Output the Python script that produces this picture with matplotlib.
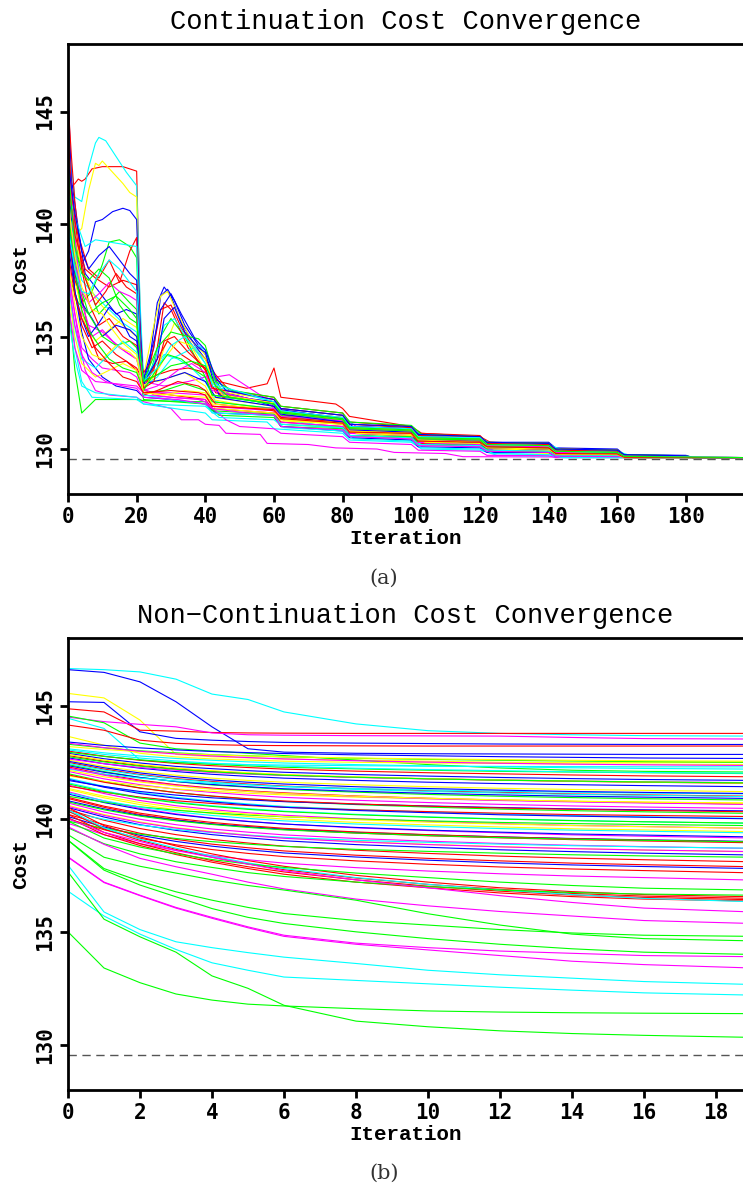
import matplotlib
matplotlib.use('Agg')
import matplotlib.pyplot as plt

# cost of the known optimum (dashed reference line)
opt_cost = 129.57

# ---------------- (a) continuation runs: (iteration, cost) vertices ----------------
lines_a = [
    [(0,141.5),(2,141.8),(3,142.0),(4,141.9),(5,142.0),(7,142.45),(10,142.55),(16,142.55),(20,142.35),(21,136),(22,132.6),(26,132.5),(30,132.4),(40,132.2),(42,131.8),(60,131.6),(62,131.2),(80,131.0),(82,130.6),(100,130.5),(102,130.25),(120,130.15),(122,129.95),(140,129.9),(142,129.72),(160,129.7),(162,129.62),(197,129.62)],
    [(0,144.5),(1,142.5),(2,141.2),(4,141.0),(6,142.5),(8,143.6),(9,143.85),(11,143.7),(14,143.0),(17,142.3),(20,141.7),(21,136.5),(22,133.2),(25,133.6),(28,134.2),(32,134.0),(36,133.6),(40,133.0),(43,132.1),(60,131.8),(63,131.3),(80,130.9),(83,130.5),(100,130.4),(103,130.2),(120,130.1),(124,129.8),(140,129.75),(144,129.62),(197,129.62)],
    [(0,143.5),(1,141.5),(2,139.5),(4,139.8),(6,141.5),(8,142.7),(9,142.6),(10,142.8),(13,142.3),(16,141.8),(18,141.4),(20,141.2),(21,134),(22,132.8),(26,133.5),(28,134.5),(31,135.6),(35,134.8),(40,133.5),(42,132.3),(60,131.9),(62,131.4),(80,131.1),(84,130.7),(100,130.55),(105,130.3),(120,130.2),(126,129.9),(140,129.8),(147,129.62),(197,129.62)],
    [(0,142),(2,138.5),(4,138.2),(6,138.8),(8,140.1),(10,140.2),(13,140.55),(16,140.7),(18,140.6),(20,140.2),(21,135.5),(22,133.0),(25,134.5),(27,136.8),(29,137.1),(31,136.6),(34,135.5),(38,134.6),(40,134.2),(44,132.6),(60,131.9),(62,131.4),(80,131.1),(82,130.7),(100,130.6),(102,130.3),(120,130.2),(122,130.0),(140,129.95),(142,129.75),(160,129.72),(163,129.66),(180,129.64),(182,129.62),(197,129.62)],
    [(0,141.8),(2,137.5),(4,136.5),(7,137.0),(10,138.2),(12,139.2),(15,139.3),(18,139.0),(20,138.5),(21,134),(22,132.6),(24,133.4),(27,135.0),(30,135.8),(34,135.0),(40,133.2),(42,132.4),(60,132.0),(62,131.6),(80,131.2),(82,130.8),(100,130.8),(102,130.5),(120,130.4),(122,130.2),(140,130.15),(142,129.9),(160,129.9),(162,129.7),(180,129.68),(182,129.62),(197,129.62)],
    [(0,143),(2,140),(4,139.0),(6,138.0),(9,137.6),(12,138.4),(15,137.4),(18,138.8),(20,139.4),(21,135),(22,132.9),(25,133.5),(28,136.5),(30,136.2),(35,134.5),(40,133.5),(43,132.5),(60,132.0),(63,131.5),(80,131.3),(83,130.9),(100,130.7),(104,130.4),(120,130.3),(123,130.1),(140,130.0),(145,129.8),(160,129.75),(165,129.62),(197,129.62)],
    [(0,146),(1,142),(3,139.8),(5,137.8),(8,137.2),(11,136.6),(14,136.0),(17,136.2),(20,136.0),(21,133.5),(23,133.0),(26,136.5),(28,137.2),(30,136.8),(33,135.6),(37,134.6),(40,134.0),(45,132.5),(60,132.0),(62,131.7),(80,131.4),(82,131.0),(100,130.9),(102,130.6),(120,130.55),(122,130.3),(140,130.3),(142,130.05),(160,130.0),(162,129.75),(180,129.72),(182,129.62),(197,129.62)],
    [(0,140.5),(2,137),(4,135.5),(7,134.5),(10,134.8),(14,134.2),(18,133.8),(20,133.6),(22,133.0),(26,133.3),(30,133.5),(35,133.6),(40,133.4),(44,133.0),(52,132.7),(58,132.9),(60,133.6),(62,132.3),(70,132.15),(78,132.0),(80,131.8),(82,131.45),(100,131.0),(103,130.7),(120,130.55),(123,130.3),(140,130.15),(142,130.0),(160,129.95),(162,129.72),(180,129.68),(182,129.62),(197,129.62)],
    [(0,139),(1,137),(3,135),(5,133.5),(8,132.6),(12,132.4),(20,132.3),(22,132.1),(30,131.8),(33,131.3),(38,131.3),(40,131.1),(44,131.05),(46,130.7),(56,130.65),(58,130.25),(70,130.2),(78,130.05),(90,130.0),(95,129.85),(110,129.8),(115,129.66),(197,129.62)],
    [(0,137),(2,133.5),(4,131.6),(6,131.9),(8,132.2),(20,132.2),(22,132.15),(40,132.1),(44,131.5),(60,131.4),(62,131.0),(80,130.9),(82,130.6),(100,130.55),(102,130.3),(120,130.25),(122,130.05),(140,130.05),(143,129.85),(160,129.85),(162,129.62),(197,129.62)],
    [(0,138.5),(2,134.5),(4,133.0),(7,132.3),(20,132.2),(22,132.0),(40,131.6),(42,131.3),(58,131.2),(60,130.9),(80,130.7),(82,130.4),(100,130.3),(103,130.0),(120,129.95),(125,129.72),(140,129.68),(145,129.62),(197,129.62)],
    [(0,142.5),(2,139),(4,136),(6,135.5),(10,135.2),(15,134.5),(20,134.0),(22,133.0),(28,132.8),(35,133.0),(40,133.2),(43,133.2),(47,133.3),(52,132.8),(57,132.3),(60,131.8),(64,131.6),(80,131.4),(84,131.0),(100,130.9),(104,130.55),(120,130.45),(124,130.2),(140,130.15),(144,129.9),(160,129.85),(164,129.68),(180,129.66),(184,129.62),(197,129.62)],
    [(0,140),(2,137.5),(5,135.5),(8,134.8),(12,135.3),(16,135.8),(20,135.4),(22,133.3),(26,133.0),(30,133.2),(34,133.4),(38,133.0),(40,132.8),(42,132.2),(60,131.7),(62,131.3),(80,131.1),(82,130.75),(100,130.65),(103,130.35),(120,130.3),(124,130.05),(140,130.0),(143,129.8),(160,129.75),(163,129.62),(197,129.62)],
    [(0,143.5),(1,141),(3,138.5),(6,137.2),(9,136.0),(12,136.5),(15,137.0),(18,136.5),(20,136.2),(21,133.5),(22,132.5),(28,132.6),(34,132.9),(40,132.6),(42,132.1),(60,131.8),(62,131.5),(80,131.1),(83,130.8),(100,130.7),(103,130.45),(120,130.35),(123,130.1),(140,130.1),(143,129.9),(160,129.9),(163,129.7),(180,129.68),(183,129.62),(197,129.62)],
    [(0,138),(2,136),(4,134.5),(7,134.0),(10,133.6),(14,133.5),(18,133.4),(20,133.2),(22,132.4),(30,132.3),(40,132.2),(41,131.9),(60,131.7),(61,131.2),(80,131.0),(81,130.7),(100,130.6),(101,130.3),(120,130.2),(121,130.0),(140,129.95),(141,129.75),(160,129.7),(161,129.62),(197,129.62)],
    [(0,139.5),(2,137.5),(4,136.8),(6,135.2),(9,134.0),(13,133.8),(17,133.9),(20,133.5),(22,132.6),(26,134.0),(29,134.8),(33,134.2),(37,133.8),(40,133.6),(42,132.8),(45,132.3),(60,132.1),(63,131.6),(80,131.3),(82,130.9),(100,130.8),(102,130.45),(120,130.35),(122,130.15),(140,130.1),(142,129.85),(160,129.8),(162,129.62),(197,129.62)],
    [(0,141),(2,138.8),(4,137.5),(8,136.8),(12,136.2),(16,135.6),(20,135.2),(21,133.5),(22,132.8),(26,133.2),(30,134.0),(34,134.3),(38,134.6),(40,134.4),(43,133.0),(46,132.3),(60,132.0),(62,131.6),(80,131.2),(83,130.85),(100,130.75),(103,130.45),(120,130.4),(122,130.1),(140,130.05),(142,129.8),(160,129.8),(162,129.64),(197,129.62)],
    [(0,140.8),(2,137),(4,135.2),(6,134.0),(10,133.2),(14,132.8),(20,132.6),(22,132.3),(30,132.2),(40,132.0),(43,131.6),(60,131.5),(62,131.0),(80,130.8),(82,130.5),(100,130.4),(102,130.1),(120,130.05),(122,129.85),(140,129.85),(142,129.66),(197,129.62)],
    [(0,142.2),(2,139.5),(4,138.0),(8,136.7),(12,136.0),(16,135.5),(20,135.0),(22,133.2),(25,135.5),(27,136.8),(29,137.0),(32,136.0),(36,134.8),(40,134.2),(42,133.0),(46,132.5),(60,132.2),(62,131.7),(80,131.4),(82,131.0),(100,130.85),(102,130.55),(120,130.5),(122,130.2),(140,130.2),(142,129.95),(160,129.9),(162,129.7),(180,129.68),(182,129.62),(197,129.62)],
    [(0,137.8),(3,136.5),(6,136.0),(10,136.5),(14,136.8),(18,136.2),(20,135.8),(21,133.5),(22,132.2),(40,132.0),(42,131.7),(60,131.55),(62,131.1),(80,130.95),(82,130.6),(100,130.5),(102,130.2),(120,130.15),(123,129.9),(140,129.9),(143,129.7),(160,129.7),(163,129.62),(197,129.62)],
    [(0,143),(2,139.5),(4,136.5),(7,135.0),(10,135.3),(13,134.8),(17,134.3),(20,134.0),(22,132.7),(25,132.4),(30,132.3),(38,132.2),(40,132.1),(46,131.3),(50,131.0),(60,130.9),(62,130.7),(80,130.55),(82,130.3),(100,130.2),(102,129.95),(120,129.9),(122,129.72),(140,129.7),(142,129.62),(197,129.62)],
    [(0,145.5),(1,143),(2,141),(4,138),(6,136.5),(9,135.5),(12,135.8),(16,135.0),(20,134.6),(22,133.4),(24,133.8),(27,136.2),(30,136.4),(33,135.4),(37,134.4),(40,134.0),(43,133.3),(47,132.6),(60,132.3),(62,131.9),(80,131.6),(82,131.2),(100,131.0),(102,130.7),(120,130.6),(122,130.3),(140,130.25),(142,130.0),(160,129.95),(162,129.72),(180,129.68),(182,129.62),(197,129.62)],
    [(0,141.5),(2,140.3),(5,139.0),(8,139.3),(12,139.2),(16,139.1),(20,139.0),(21,134.5),(22,133.0),(25,133.8),(28,135.5),(31,135.8),(35,134.8),(40,133.8),(42,132.8),(60,132.1),(62,131.8),(80,131.5),(83,131.1),(100,130.95),(103,130.6),(120,130.5),(123,130.25),(140,130.2),(144,129.95),(160,129.9),(164,129.7),(180,129.68),(183,129.62),(197,129.62)],
    [(0,137),(2,135),(4,133.8),(8,133.2),(12,133.5),(16,133.8),(20,133.5),(22,132.5),(30,132.4),(40,132.3),(43,131.8),(60,131.6),(63,131.25),(80,131.1),(84,130.7),(100,130.6),(104,130.3),(120,130.25),(124,130.0),(140,129.95),(144,129.75),(160,129.75),(164,129.64),(197,129.62)],
    [(0,139.8),(2,137.8),(4,136.5),(7,135.8),(10,135.0),(14,135.5),(18,135.3),(20,135.0),(22,132.9),(26,134.0),(28,135.8),(31,136.3),(34,135.2),(38,134.5),(40,134.3),(42,133.2),(44,132.4),(60,132.1),(62,131.75),(80,131.35),(83,131.0),(100,130.9),(103,130.55),(120,130.45),(123,130.2),(140,130.15),(143,129.9),(160,129.85),(163,129.68),(180,129.66),(183,129.62),(197,129.62)],
    [(0,136.5),(2,134.5),(4,133.5),(8,133.0),(14,132.9),(20,132.8),(22,132.5),(30,132.5),(40,132.4),(42,131.9),(60,131.8),(62,131.45),(80,131.25),(82,130.85),(100,130.75),(102,130.45),(120,130.4),(122,130.15),(140,130.1),(142,129.85),(160,129.8),(162,129.62),(197,129.62)],
    [(0,136),(2,134.0),(4,132.8),(8,132.5),(20,132.3),(22,132.0),(40,131.9),(44,131.4),(60,131.3),(63,130.95),(80,130.8),(83,130.45),(100,130.35),(103,130.05),(120,130.0),(124,129.8),(140,129.75),(144,129.62),(197,129.62)],
    [(0,142),(2,139.5),(5,138.0),(8,137.6),(12,137.2),(16,137.5),(20,137.3),(21,134),(22,132.4),(26,132.6),(32,133.0),(38,132.8),(40,132.6),(43,132.0),(60,131.7),(62,131.4),(80,131.2),(82,130.8),(100,130.7),(102,130.4),(120,130.3),(122,130.05),(140,130.0),(142,129.8),(160,129.75),(162,129.62),(197,129.62)],
    [(0,140.3),(3,137.5),(6,136.0),(10,135.0),(14,134.6),(18,134.8),(20,134.5),(22,133.0),(26,134.5),(30,135.2),(35,135.0),(38,134.9),(40,134.6),(43,133.0),(48,132.6),(60,132.3),(62,131.9),(80,131.6),(82,131.2),(100,131.05),(103,130.65),(120,130.55),(122,130.3),(140,130.25),(142,130.0),(160,129.95),(162,129.75),(180,129.7),(182,129.62),(197,129.62)],
    [(0,139.2),(2,137.0),(4,135.8),(6,135.0),(9,135.6),(12,136.3),(15,135.9),(18,135.0),(20,134.8),(22,132.9),(28,133.1),(34,133.4),(40,133.0),(43,132.3),(60,131.9),(62,131.55),(80,131.2),(82,130.85),(100,130.75),(102,130.4),(120,130.3),(122,130.05),(140,130.0),(143,129.8),(160,129.78),(163,129.64),(197,129.62)],
    [(0,141.2),(2,138.2),(4,137.0),(6,136.5),(9,136.9),(12,137.4),(15,137.0),(18,136.8),(20,136.6),(21,133.8),(22,132.6),(26,132.8),(32,133.5),(36,133.8),(40,133.4),(42,132.6),(60,132.0),(62,131.6),(80,131.3),(82,130.9),(100,130.8),(102,130.5),(120,130.4),(122,130.15),(140,130.1),(142,129.85),(160,129.8),(162,129.65),(197,129.62)],
    [(0,138.3),(2,136.4),(4,135.0),(7,134.2),(10,134.0),(14,134.6),(18,134.3),(20,134.0),(22,132.8),(25,133.2),(28,134.0),(32,134.8),(36,134.6),(40,134.0),(42,133.0),(45,132.4),(60,132.05),(62,131.65),(80,131.3),(82,130.95),(100,130.85),(102,130.5),(120,130.45),(122,130.2),(140,130.15),(142,129.9),(160,129.85),(162,129.66),(197,129.62)],
    [(0,137.3),(2,135.4),(4,134.0),(8,133.6),(12,134.2),(16,134.8),(20,134.3),(22,132.4),(30,132.2),(40,132.0),(42,131.6),(60,131.5),(62,131.1),(80,130.95),(82,130.6),(100,130.5),(102,130.2),(120,130.15),(122,129.95),(140,129.9),(142,129.7),(160,129.7),(162,129.62),(197,129.62)],
    [(0,144.2),(1,141.5),(3,139.0),(5,137.6),(8,136.4),(11,137.0),(14,137.8),(17,137.2),(20,136.9),(21,134),(22,132.7),(25,133.0),(28,134.8),(31,135.0),(35,134.3),(40,133.6),(42,132.7),(60,132.2),(62,131.8),(80,131.5),(82,131.1),(100,130.95),(102,130.6),(120,130.55),(122,130.25),(140,130.2),(142,129.95),(160,129.9),(162,129.7),(180,129.67),(182,129.62),(197,129.62)],
    [(0,140.6),(2,138.0),(4,136.2),(6,135.3),(9,134.6),(12,134.0),(16,133.6),(20,133.4),(22,132.6),(26,133.6),(29,134.2),(33,134.0),(37,133.5),(40,133.2),(42,132.4),(60,132.0),(62,131.6),(80,131.3),(82,130.9),(100,130.8),(102,130.45),(120,130.4),(122,130.1),(140,130.05),(142,129.8),(160,129.78),(162,129.63),(197,129.62)],
    [(0,142.8),(2,140.5),(4,138.8),(6,138.0),(9,138.6),(12,139.0),(15,138.4),(18,137.8),(20,137.5),(21,134.5),(22,133.1),(25,134.8),(27,136.2),(30,136.9),(33,136.0),(37,134.9),(40,134.4),(43,133.2),(46,132.6),(60,132.2),(62,131.8),(80,131.5),(82,131.1),(100,131.0),(102,130.65),(120,130.55),(122,130.3),(140,130.25),(142,130.0),(160,129.95),(162,129.75),(180,129.7),(182,129.62),(197,129.62)],
    [(0,137.6),(2,135.5),(4,134.2),(7,133.4),(11,133.0),(16,132.8),(20,132.7),(22,132.3),(32,132.2),(40,132.0),(42,131.8),(52,131.6),(60,131.5),(62,131.0),(80,130.85),(82,130.55),(100,130.45),(102,130.15),(120,130.1),(122,129.9),(140,129.85),(142,129.68),(197,129.62)],
    [(0,141.0),(2,138.6),(4,137.2),(7,136.2),(10,136.0),(13,135.3),(16,134.7),(20,134.2),(22,132.5),(28,132.4),(34,132.6),(40,132.5),(42,132.0),(60,131.75),(62,131.35),(80,131.15),(82,130.8),(100,130.7),(102,130.4),(120,130.3),(122,130.05),(140,130.0),(142,129.78),(160,129.75),(162,129.62),(197,129.62)],
    [(0,139.9),(2,138.0),(4,137.0),(6,136.9),(9,137.8),(12,138.4),(15,138.0),(18,137.4),(20,137.0),(21,134.2),(22,133.0),(26,133.6),(30,134.6),(34,135.0),(38,134.3),(40,133.8),(42,132.9),(60,132.1),(62,131.7),(80,131.4),(82,131.0),(100,130.9),(102,130.55),(120,130.5),(122,130.2),(140,130.15),(142,129.9),(160,129.85),(162,129.68),(197,129.62)],
    [(0,138.8),(2,136.8),(4,135.8),(6,135.2),(8,134.5),(12,133.8),(16,133.2),(20,133.0),(22,132.5),(30,132.6),(38,132.5),(40,132.4),(42,131.9),(60,131.75),(62,131.35),(80,131.15),(82,130.75),(100,130.7),(102,130.35),(120,130.3),(122,130.1),(140,130.05),(142,129.8),(160,129.78),(162,129.63),(197,129.62)],
    [(0,142.6),(2,139.0),(4,137.8),(6,137.5),(9,138.0),(12,137.6),(15,136.4),(18,135.8),(20,135.6),(22,133.0),(26,133.3),(30,133.7),(36,133.9),(40,133.7),(43,132.8),(47,132.3),(60,132.0),(62,131.65),(80,131.35),(82,130.95),(100,130.85),(102,130.5),(120,130.45),(122,130.2),(140,130.15),(142,129.9),(160,129.85),(162,129.67),(197,129.62)],
]
colors_a = ['r','c','y','b','g','r','b','r','m','g','c','m','y','g','m','r','c','b',
            'y','g','m','r','c','y','b','m','c','r','g',
            'b','m','y','c','r','g','b','m','y','c','r','g']

# ---------------- (b) non-continuation runs ----------------
iters_b = [0, 1, 2, 3, 4, 5, 6, 8, 10, 12, 14, 16, 19]
lines_b = [
    [146.65,146.6,146.5,146.18,145.52,145.28,144.73,144.2,143.9,143.78,143.72,143.68,143.66],
    [146.6,146.48,146.06,145.18,144.07,143.1,142.95,142.9,142.88,142.87,142.86,142.85,142.85],
    [145.55,145.35,144.37,142.85,142.75,142.7,142.65,142.6,142.55,142.5,142.5,142.5,142.5],
    [145.18,145.15,143.85,143.56,143.48,143.42,143.38,143.35,143.33,143.31,143.3,143.29,143.29],
    [144.87,144.73,143.92,143.88,143.82,143.8,143.79,143.78,143.78,143.78,143.78,143.78,143.78],
    [144.5,144.3,144.18,144.07,143.8,143.72,143.7,143.68,143.67,143.66,143.6,143.55,143.53],
    [144.45,144.0,142.6,142.5,142.45,142.4,142.38,142.35,142.33,142.32,142.31,142.3,142.3],
    [144.55,144.25,143.35,143.1,143.0,142.9,142.8,142.6,142.4,142.25,142.15,142.1,142.07],
    [144.15,143.92,143.48,143.34,143.28,143.25,143.24,143.23,143.22,143.22,143.22,143.22,143.22],
    [143.65,143.26,142.9,142.74,142.65,142.6,142.55,142.5,142.47,142.45,142.43,142.42,142.4],
    [143.4,143.25,143.14,143.05,142.98,142.93,142.89,142.83,142.79,142.75,142.72,142.69,142.67],
    [143.3,143.14,143.01,142.92,142.84,142.79,142.74,142.68,142.63,142.59,142.56,142.53,142.5],
    [143.2,143.07,142.97,142.89,142.83,142.78,142.75,142.69,142.65,142.62,142.59,142.57,142.55],
    [143.1,142.92,142.78,142.67,142.59,142.52,142.47,142.4,142.34,142.3,142.26,142.23,142.2],
    [143.0,142.77,142.59,142.45,142.35,142.27,142.2,142.11,142.04,141.99,141.94,141.9,141.86],
    [142.9,142.66,142.47,142.32,142.22,142.13,142.06,141.96,141.89,141.83,141.78,141.74,141.7],
    [142.95,142.76,142.61,142.49,142.41,142.34,142.28,142.21,142.15,142.1,142.07,142.04,142.0],
    [142.8,142.55,142.36,142.21,142.1,142.01,141.94,141.84,141.77,141.71,141.66,141.62,141.57],
    [142.7,142.44,142.24,142.09,141.97,141.88,141.8,141.7,141.62,141.56,141.51,141.47,141.42],
    [142.6,142.32,142.1,141.93,141.8,141.7,141.62,141.51,141.42,141.35,141.3,141.26,141.2],
    [142.65,142.44,142.27,142.15,142.05,141.98,141.92,141.83,141.77,141.72,141.67,141.64,141.6],
    [142.5,142.2,141.96,141.78,141.65,141.54,141.45,141.33,141.24,141.17,141.1,141.06,141.0],
    [142.4,142.09,141.83,141.65,141.5,141.4,141.3,141.18,141.08,141.0,140.94,140.89,140.83],
    [142.35,142.06,141.83,141.65,141.52,141.42,141.33,141.22,141.13,141.06,141.0,140.96,140.9],
    [142.3,141.97,141.71,141.51,141.36,141.24,141.15,141.01,140.91,140.83,140.77,140.72,140.65],
    [142.2,141.98,141.8,141.67,141.57,141.5,141.43,141.34,141.28,141.22,141.18,141.14,141.1],
    [142.1,141.77,141.51,141.31,141.17,141.05,140.95,140.82,140.72,140.64,140.57,140.52,140.46],
    [142.0,141.65,141.37,141.16,141.0,140.87,140.77,140.63,140.52,140.43,140.36,140.31,140.24],
    [141.9,141.66,141.47,141.32,141.22,141.13,141.06,140.96,140.89,140.83,140.78,140.74,140.7],
    [141.8,141.44,141.16,140.95,140.79,140.66,140.55,140.41,140.3,140.22,140.15,140.09,140.02],
    [141.7,141.43,141.21,141.05,140.93,140.84,140.76,140.65,140.57,140.5,140.44,140.4,140.35],
    [141.6,141.24,140.95,140.74,140.58,140.45,140.34,140.2,140.09,140.0,139.93,139.87,139.8],
    [141.5,141.12,140.81,140.58,140.41,140.27,140.16,140.0,139.89,139.79,139.71,139.66,139.58],
    [141.45,141.18,140.96,140.8,140.68,140.59,140.51,140.4,140.32,140.25,140.19,140.15,140.1],
    [141.3,140.93,140.63,140.4,140.24,140.1,139.99,139.84,139.73,139.64,139.56,139.51,139.43],
    [141.2,140.79,140.46,140.22,140.03,139.89,139.77,139.6,139.48,139.38,139.29,139.23,139.15],
    [141.1,140.72,140.42,140.19,140.02,139.88,139.77,139.62,139.5,139.41,139.33,139.28,139.2],
    [141.0,140.74,140.53,140.38,140.26,140.17,140.09,139.99,139.91,139.84,139.79,139.75,139.7],
    [140.9,140.51,140.19,139.96,139.78,139.65,139.53,139.37,139.25,139.16,139.08,139.02,138.94],
    [140.8,140.44,140.15,139.94,139.77,139.65,139.54,139.4,139.29,139.2,139.13,139.07,139.0],
    [140.7,140.3,139.98,139.74,139.55,139.41,139.29,139.13,139.01,138.91,138.83,138.77,138.69],
    [140.6,140.19,139.86,139.61,139.43,139.28,139.16,138.99,138.87,138.77,138.68,138.62,138.54],
    [140.5,140.08,139.74,139.49,139.3,139.16,139.03,138.86,138.74,138.63,138.55,138.48,138.4],
    [140.4,139.94,139.57,139.3,139.09,138.93,138.79,138.61,138.47,138.35,138.26,138.19,138.1],
    [140.3,139.98,139.72,139.53,139.39,139.28,139.18,139.05,138.96,138.88,138.81,138.76,138.7],
    [140.2,139.74,139.36,139.09,138.88,138.72,138.58,138.39,138.25,138.14,138.04,137.97,137.88],
    [140.1,139.64,139.27,139.0,138.79,138.63,138.49,138.31,138.17,138.05,137.96,137.89,137.8],
    [140.0,139.52,139.14,138.85,138.64,138.47,138.33,138.14,137.99,137.87,137.78,137.71,137.61],
    [139.9,139.58,139.32,139.13,138.99,138.88,138.78,138.65,138.56,138.48,138.41,138.36,138.3],
    [139.8,139.3,138.9,138.6,138.37,138.19,138.04,137.84,137.69,137.57,137.47,137.4,137.29],
    [143.35,143.15,142.99,142.87,142.78,142.71,142.65,142.57,142.51,142.46,142.42,142.39,142.36],
    [143.05,142.85,142.69,142.56,142.46,142.39,142.33,142.24,142.18,142.13,142.08,142.05,142.02],
    [142.85,142.6,142.4,142.25,142.13,142.04,141.96,141.86,141.78,141.72,141.67,141.63,141.58],
    [142.75,142.52,142.33,142.19,142.08,142.0,141.93,141.84,141.77,141.71,141.67,141.63,141.59],
    [142.55,142.26,142.03,141.86,141.72,141.62,141.54,141.42,141.34,141.27,141.21,141.17,141.12],
    [142.45,142.16,141.93,141.75,141.62,141.51,141.42,141.3,141.21,141.14,141.08,141.04,140.98],
    [142.25,141.93,141.67,141.48,141.33,141.21,141.12,140.99,140.89,140.81,140.75,140.7,140.64],
    [142.15,141.86,141.63,141.45,141.31,141.21,141.12,141.0,140.91,140.84,140.78,140.74,140.69],
    [141.95,141.62,141.36,141.16,141.01,140.89,140.79,140.66,140.56,140.48,140.42,140.37,140.31],
    [141.75,141.4,141.12,140.91,140.75,140.62,140.51,140.37,140.27,140.18,140.12,140.07,140.0],
    [141.55,141.2,140.92,140.71,140.55,140.42,140.32,140.18,140.07,139.99,139.92,139.87,139.81],
    [141.35,141.0,140.72,140.5,140.34,140.21,140.1,139.96,139.85,139.77,139.7,139.65,139.58],
    [141.15,140.8,140.52,140.31,140.15,140.02,139.91,139.77,139.66,139.57,139.5,139.45,139.38],
    [140.95,140.56,140.25,140.02,139.84,139.7,139.58,139.42,139.3,139.2,139.12,139.06,138.98],
    [140.75,140.4,140.12,139.91,139.75,139.62,139.51,139.37,139.26,139.17,139.1,139.05,138.98],
    [140.55,140.15,139.83,139.59,139.41,139.26,139.14,138.98,138.86,138.76,138.68,138.62,138.55],
    [140.5,139.7,139.2,138.8,138.45,138.15,137.9,137.5,137.2,136.95,136.78,136.65,136.55],
    [140.35,139.55,139.05,138.65,138.3,138.0,137.75,137.38,137.1,136.88,136.7,136.58,136.48],
    [140.2,139.4,138.9,138.5,138.15,137.88,137.65,137.3,137.02,136.8,136.63,136.52,136.42],
    [140.05,139.3,138.82,138.42,138.08,137.8,137.55,137.2,136.95,136.72,136.56,136.45,136.36],
    [140.4,139.6,139.1,138.7,138.35,138.05,137.8,137.4,137.1,136.85,136.65,136.48,136.33],
    [139.9,139.15,138.75,138.45,138.2,138.0,137.85,137.6,137.4,137.2,137.05,136.93,136.85],
    [139.6,138.9,138.45,138.1,137.85,137.62,137.45,137.2,137.0,136.85,136.74,136.67,136.62],
    [140.0,139.4,139.0,138.6,138.3,138.0,137.7,137.3,136.95,136.6,136.3,136.05,135.88],
    [139.65,138.87,138.25,137.88,137.55,137.2,136.9,136.45,136.15,135.9,135.7,135.5,135.37],
    [139.3,138.3,137.9,137.6,137.3,137.05,136.85,136.4,135.8,135.3,134.9,134.7,134.6],
    [139.06,137.8,137.24,136.77,136.4,136.08,135.81,135.5,135.3,135.1,134.95,134.85,134.8],
    [139.05,137.73,137.07,136.55,136.03,135.64,135.37,135.0,134.7,134.45,134.25,134.1,134.0],
    [138.32,137.2,136.62,136.08,135.64,135.22,134.85,134.5,134.3,134.15,134.05,133.95,133.9],
    [138.3,137.18,136.6,136.05,135.6,135.18,134.8,134.45,134.2,133.95,133.7,133.55,133.4],
    [137.95,135.88,135.1,134.56,134.3,134.08,133.88,133.6,133.3,133.1,132.95,132.8,132.67],
    [136.8,135.7,134.9,134.22,133.63,133.3,133.0,132.85,132.7,132.55,132.42,132.3,132.2],
    [135.0,133.4,132.75,132.25,131.98,131.8,131.72,131.6,131.5,131.45,131.42,131.4,131.38],
    [137.65,135.56,134.78,134.1,133.05,132.5,131.75,131.05,130.8,130.62,130.5,130.42,130.33],
]
colors_b = ['c','b','y','b','r','m','c','g','r','y',
            'b','g','y','c','r','b','g','r','b','y',
            'm','r','g','b','r','c','m','g','y','c',
            'b','c','m','r','y','m','b','g','r','b',
            'm','y','b','r','c','r','b','r','g','m',
            'm','c','y','g','b','c','m','y','r','b',
            'g','y','c','r','g','m',
            'r','r','r','r','c','g','g','m','m','g',
            'g','g','m','m','c','c','g','g']

# matlab style pure colours
rgb = {'r': '#ff0000', 'g': '#00ff00', 'b': '#0000ff',
       'c': '#00ffff', 'm': '#ff00ff', 'y': '#ffff00'}

mono = 'Liberation Mono'
tickfont = {'family': 'DejaVu Sans Mono', 'weight': 'bold', 'size': 15}

fig = plt.figure(figsize=(7.43, 11.93), dpi=100)
ax_a = fig.add_axes([0.0915, 0.5859, 0.9085, 0.3772])
ax_b = fig.add_axes([0.0915, 0.0863, 0.9085, 0.3789])


def style_axes(ax, title, xmax, xticks):
    ax.axhline(opt_cost, color='#555555', lw=1.0, ls=(0, (6, 4)), zorder=1)
    ax.set_xlim(0, xmax)
    ax.set_ylim(128, 148)
    ax.set_xticks(xticks)
    ax.set_yticks([130, 135, 140, 145])
    for s in ['left', 'bottom', 'top']:
        ax.spines[s].set_linewidth(2)
    ax.spines['right'].set_visible(False)
    ax.tick_params(direction='out', length=6, width=2, pad=3)
    for lab in ax.get_xticklabels() + ax.get_yticklabels():
        lab.set_fontproperties(matplotlib.font_manager.FontProperties(**tickfont))
    for lab in ax.get_yticklabels():
        lab.set_rotation(90)
        lab.set_va('center')
    ax.set_title(title, family=mono, fontsize=19.5, pad=11)
    ax.set_xlabel('Iteration', family=mono, weight='bold', fontsize=15, labelpad=2)
    ax.set_ylabel('Cost', family=mono, weight='bold', fontsize=15, labelpad=4)


# panel (a)
for pts, c in zip(lines_a, colors_a):
    xs = [p[0] for p in pts]
    ys = [p[1] for p in pts]
    ax_a.plot(xs, ys, color=rgb[c], lw=0.8, zorder=2)
style_axes(ax_a, 'Continuation Cost Convergence', 196.6, range(0, 181, 20))

# panel (b)
for vals, c in zip(lines_b, colors_b):
    ax_b.plot(iters_b, vals, color=rgb[c], lw=0.8, zorder=2)
style_axes(ax_b, 'Non\u2212Continuation Cost Convergence', 18.75, range(0, 19, 2))

fig.text(0.517, 0.5155, '(a)', family='DejaVu Serif', fontsize=15, color='#333333',
         ha='center', va='center')
fig.text(0.517, 0.0168, '(b)', family='DejaVu Serif', fontsize=15, color='#333333',
         ha='center', va='center')

fig.savefig('out.png', dpi=100)
